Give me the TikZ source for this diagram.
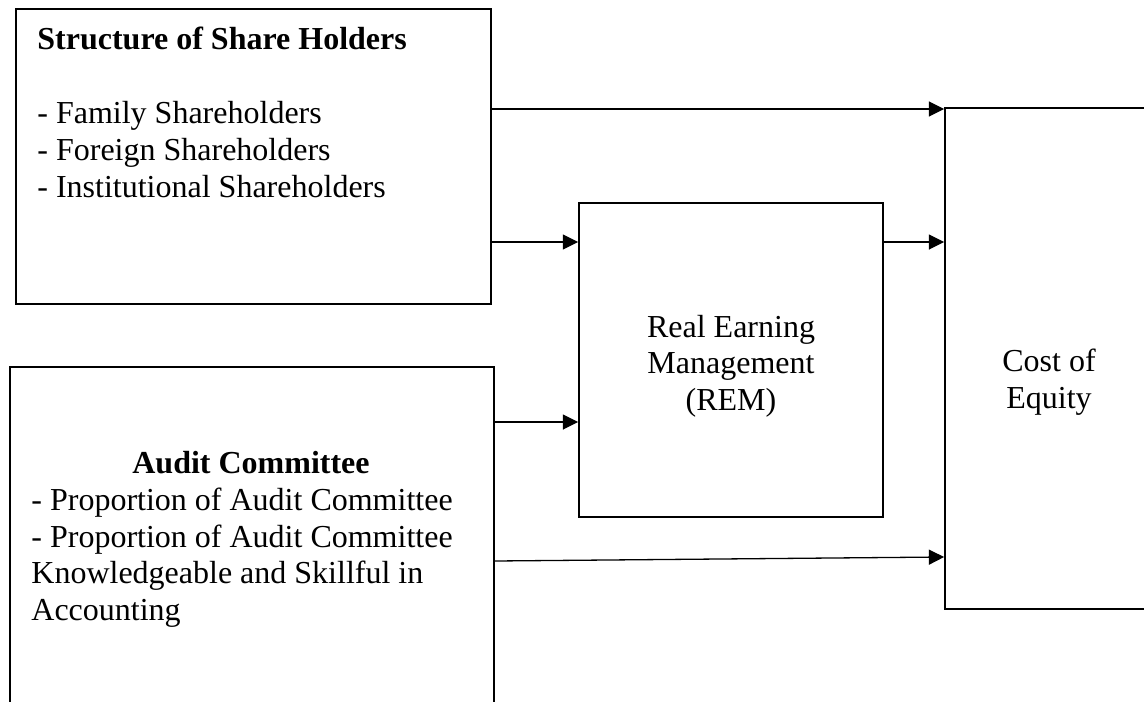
\documentclass[tikz,border=0pt]{standalone}
\usepackage{fontspec}
\setmainfont{Liberation Serif}
\usetikzlibrary{arrows.meta}

\begin{document}
\begin{tikzpicture}[x = 0.5pt, y = -0.5pt,
    box/.style = {draw = black, line width = 0.9pt, inner sep = 0pt},
    txt/.style = {black, inner sep = 0pt, font = \fontsize{16}{18.5}\selectfont},
    arr/.style = {black, line width = 0.65pt, -{Triangle[length = 7.6pt, width = 7.5pt]}}]
\useasboundingbox (0, 0) rectangle (1144, 701);
\clip (0, 0) rectangle (1144, 701);
% boxes
\node[box, minimum width = 237.5pt, minimum height = 147.5pt] (shA) at (253.5, 156.5) {};
\node[box, minimum width = 242pt, minimum height = 186.5pt] (audit) at (252, 553.5) {};
\node[box, minimum width = 152pt, minimum height = 157pt] (rem) at (731, 360) {};
\node[box, minimum width = 104pt, minimum height = 250.5pt] (coe) at (1049, 358.5) {};
% share holders
\node[txt, anchor = base west] (shTitle) at (37, 50) {\textbf{Structure of Share Holders}};
\node[txt, anchor = base west] (shFamily) at (37, 123) {- Family Shareholders};
\node[txt, anchor = base west] (shForeign) at (37, 160) {- Foreign Shareholders};
\node[txt, anchor = base west] (shInst) at (37, 197) {- Institutional Shareholders};
% audit committee
\node[txt, anchor = base] (acTitle) at (251, 473) {\textbf{Audit Committee}};
\node[txt, anchor = base west] (acProp) at (31, 510) {- Proportion of Audit Committee};
\node[txt, anchor = base west] (acSkill) at (31, 547) {- Proportion of Audit Committee};
\node[txt, anchor = base west] (acSkillB) at (31, 583) {Knowledgeable and Skillful in};
\node[txt, anchor = base west] (acSkillC) at (31, 620) {Accounting};
% REM
\node[txt, anchor = base] (remA) at (731, 337) {Real Earning};
\node[txt, anchor = base] (remB) at (731, 373) {Management};
\node[txt, anchor = base] (remC) at (731, 410) {(REM)};
% cost of equity
\node[txt, anchor = base] (coeA) at (1049, 371) {Cost of};
\node[txt, anchor = base] (coeB) at (1049, 408) {Equity};
% arrows
\draw[arr] (shA.east |- 0, 109) -- (coe.west |- 0, 109);
\draw[arr] (shA.east |- 0, 242) -- (rem.west |- 0, 242);
\draw[arr] (rem.east |- 0, 242) -- (coe.west |- 0, 242);
\draw[arr] (audit.east |- 0, 422) -- (rem.west |- 0, 422);
\draw[arr] (audit.east |- 0, 561) -- (coe.west |- 0, 557);
\end{tikzpicture}
\end{document}
